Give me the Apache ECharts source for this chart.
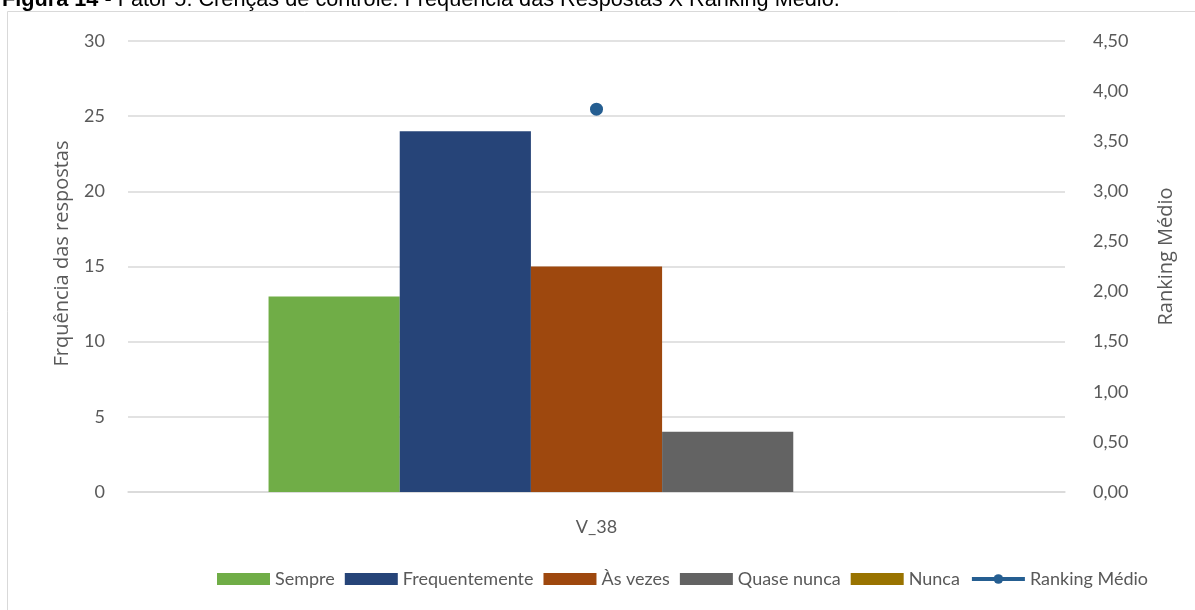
<!DOCTYPE html>
<html>
<head>
<meta charset="utf-8">
<script src="https://cdn.jsdelivr.net/npm/echarts@6/dist/echarts.min.js"></script>
<style>
  html, body { margin: 0; padding: 0; background: #ffffff; }
  #chart { width: 1195px; height: 610px; }
</style>
</head>
<body>
<div id="chart"></div>
<script>
// Categories and response counts per answer option
const categories = ['V_38'];
const sempre = [13];
const frequentemente = [24];
const asVezes = [15];
const quaseNunca = [4];
const nunca = [0];
const rankingMedio = [3.82];

const leftTicks = { min: 0, max: 30, interval: 5 };
const rightTicks = { min: 0, max: 4.5, interval: 0.5 };

const tickFont = 'Lato, "Open Sans", sans-serif';
const nameFont = '"Open Sans", Lato, sans-serif';
const textColor = '#595959';

const chart = echarts.init(document.getElementById('chart'));

function bar(name, data, color) {
  return {
    name: name,
    type: 'bar',
    data: data,
    barGap: '0%',
    barCategoryGap: '30%',
    itemStyle: { color: color },
    emphasis: { disabled: true }
  };
}

chart.setOption({
  animation: false,
  graphic: [
    {
      type: 'rect',
      shape: { x: 7.5, y: 11.5, width: 1300, height: 700 },
      style: { fill: 'none', stroke: '#d9d9d9', lineWidth: 1 },
      z: -1
    },
    {
      type: 'text',
      left: 2,
      top: -11,
      style: {
        rich: {
          b: { fontFamily: '"Liberation Sans", Arial, sans-serif', fontWeight: 'bold', fontSize: 21.7, fill: '#000' },
          n: { fontFamily: '"Liberation Sans", Arial, sans-serif', fontSize: 21.7, fill: '#000' }
        },
        text: '{b|Figura 14}{n| - Fator 5: Crenças de controle. Frequência das Respostas X Ranking Médio.}'
      }
    }
  ],
  grid: { left: 128, right: 130, top: 41, bottom: 118 },
  legend: {
    left: 212,
    top: 565,
    width: 1000,
    itemWidth: 53,
    itemHeight: 12,
    itemGap: 10,
    textStyle: { color: textColor, fontSize: 18, fontFamily: tickFont },
    lineStyle: { width: 4 },
    data: [
      { name: 'Sempre', icon: 'rect' },
      { name: 'Frequentemente', icon: 'rect' },
      { name: 'Às vezes', icon: 'rect' },
      { name: 'Quase nunca', icon: 'rect' },
      { name: 'Nunca', icon: 'rect' },
      { name: 'Ranking Médio' }
    ]
  },
  xAxis: {
    type: 'category',
    data: categories,
    axisLine: { lineStyle: { color: '#d9d9d9', width: 1.5 } },
    axisTick: { show: false },
    axisLabel: { color: textColor, fontSize: 18, fontFamily: tickFont, margin: 26 }
  },
  yAxis: [
    {
      type: 'value',
      min: leftTicks.min,
      max: leftTicks.max,
      interval: leftTicks.interval,
      name: 'Frquência das respostas',
      nameLocation: 'middle',
      nameGap: 56,
      nameTextStyle: { color: textColor, fontSize: 20, fontFamily: nameFont, padding: [0, 0, 0, 26] },
      axisLine: { show: false },
      axisTick: { show: false },
      axisLabel: { color: textColor, fontSize: 18, fontFamily: tickFont, margin: 23 },
      splitLine: { lineStyle: { color: '#d9d9d9', width: 1.5 } }
    },
    {
      type: 'value',
      min: rightTicks.min,
      max: rightTicks.max,
      interval: rightTicks.interval,
      name: 'Ranking Médio',
      nameLocation: 'middle',
      nameGap: 91,
      nameRotate: 90,
      nameTextStyle: { color: textColor, fontSize: 20, fontFamily: nameFont, padding: [0, 0, 0, 20] },
      axisLine: { show: false },
      axisTick: { show: false },
      splitLine: { show: false },
      axisLabel: {
        color: textColor, fontSize: 18, fontFamily: tickFont, margin: 28,
        formatter: v => v.toFixed(2).replace('.', ',')
      }
    }
  ],
  series: [
    bar('Sempre', sempre, '#70ad47'),
    bar('Frequentemente', frequentemente, '#264478'),
    bar('Às vezes', asVezes, '#9e480e'),
    bar('Quase nunca', quaseNunca, '#636363'),
    bar('Nunca', nunca, '#997300'),
    {
      name: 'Ranking Médio',
      type: 'line',
      yAxisIndex: 1,
      data: rankingMedio,
      symbol: 'circle',
      symbolSize: 13,
      itemStyle: { color: '#255e91' },
      lineStyle: { color: '#255e91', width: 4 },
      emphasis: { disabled: true }
    }
  ]
});
</script>
</body>
</html>
